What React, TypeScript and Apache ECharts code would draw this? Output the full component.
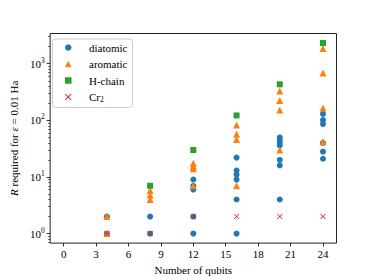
import React, { useEffect, useRef } from "react";
import * as echarts from "echarts";

const diatomicQubits = [4, 4, 8, 8, 12, 12, 12, 12, 12, 16, 16, 16, 16, 16, 16, 20, 20, 20, 20, 20, 20, 20, 24, 24, 24, 24, 24, 24];
const diatomicR = [1, 2, 1, 2, 1, 2, 6, 7, 9, 1, 4, 9, 11, 13, 22, 4, 16, 20, 36, 40, 44, 50, 21, 28, 40, 86, 101, 130];

const aromaticQubits = [4, 4, 8, 8, 8, 12, 12, 12, 12, 16, 16, 16, 16, 20, 20, 20, 20, 24, 24, 24, 24];
const aromaticR = [1, 2, 4, 4.8, 5.8, 7, 14, 15.5, 17.5, 7, 46, 57, 83, 30, 152, 225, 330, 42, 165, 685, 1850];

const hchainQubits = [8, 12, 16, 20, 24];
const hchainR = [7, 30, 122, 433, 2320];

const cr2Qubits = [4, 8, 12, 16, 20, 24];
const cr2R = [1, 1, 2, 2, 2, 2];

const xTickValues = [0, 3, 6, 9, 12, 15, 18, 21, 24];
const yTickValues = [1, 10, 100, 1000];
const yMinorTicks = [0.7, 0.8, 0.9, 2, 3, 4, 5, 6, 7, 8, 9, 20, 30, 40, 50, 60, 70, 80, 90, 200, 300, 400, 500, 600, 700, 800, 900, 2000, 3000];

const seriesNames = ["diatomic", "aromatic", "H-chain", "Cr2"];
const colors = ["#1f77b4", "#ff7f0e", "#2ca02c", "#d62728"];

const zip = (xs: number[], ys: number[]) => xs.map((x, i) => [x, ys[i]]);

const FONT = "Liberation Serif";
const CROSS = "path://M0,1L1,0L5,4L9,0L10,1L6,5L10,9L9,10L5,6L1,10L0,9L4,5Z";

export default function App() {
  const ref = useRef<HTMLDivElement>(null);
  useEffect(() => {
    if (!ref.current) return;
    const chart = echarts.init(ref.current, undefined, { renderer: "svg" });
    const yLabelRich = {
      b: { fontFamily: FONT, fontSize: 11, color: "#000", lineHeight: 12 },
      s: { fontFamily: FONT, fontSize: 7.5, color: "#000", padding: [0, 0, 7, 0] },
    };
    chart.setOption({
      animation: false,
      backgroundColor: "#fff",
      textStyle: { fontFamily: FONT },
      grid: {
        left: 46,
        right: 37.5,
        top: 33.5,
        bottom: 31.5,
        show: true,
        borderColor: "#222",
        borderWidth: 1,
        backgroundColor: "#fff",
      },
      legend: {
        orient: "vertical",
        left: 52.5,
        top: 39,
        padding: [2.5, 5, 4, 12.5],
        itemWidth: 6.5,
        itemHeight: 6.5,
        itemGap: 4.5,
        borderColor: "#cccccc",
        borderWidth: 1,
        borderRadius: 3,
        backgroundColor: "rgba(255,255,255,0.8)",
        data: seriesNames,
        formatter: (name: string) => (name === "Cr2" ? "Cr{sub|2}" : name),
        textStyle: {
          fontFamily: FONT,
          fontSize: 11,
          color: "#000",
          lineHeight: 12,
          padding: [0, 0, 0, 12.5],
          rich: {
            sub: { fontFamily: FONT, fontSize: 7.5, color: "#000", padding: [5, 0, 0, 0] },
          },
        },
      },
      xAxis: {
        type: "value",
        min: -1.25,
        max: 25.25,
        splitLine: { show: false },
        axisLine: { show: false, onZero: false },
        axisTick: {
          show: true,
          inside: false,
          length: 3.5,
          customValues: xTickValues,
          lineStyle: { color: "#000", width: 0.8 },
        },
        axisLabel: {
          customValues: xTickValues,
          fontFamily: FONT,
          fontSize: 11,
          color: "#000",
          margin: 5,
        },
        name: "Number of qubits",
        nameLocation: "middle",
        nameGap: 18,
        nameTextStyle: { fontFamily: FONT, fontSize: 11, color: "#000" },
      },
      yAxis: [
        {
          type: "log",
          logBase: 10,
          min: 0.68,
          max: 3420,
          position: "left",
          splitLine: { show: false },
          axisLine: { show: false, onZero: false },
          axisTick: {
            show: true,
            inside: false,
            length: 3.5,
            customValues: yTickValues,
            lineStyle: { color: "#000", width: 0.8 },
          },
          axisLabel: {
            customValues: yTickValues,
            margin: 5.5,
            formatter: (v: number) => `{b|10}{s|${Math.round(Math.log10(v))}}`,
            rich: yLabelRich,
          },
          name: "{i|R} required for {i|ε} = 0.01 Ha",
          nameLocation: "middle",
          nameGap: 26,
          nameTextStyle: {
            fontFamily: FONT,
            fontSize: 11,
            color: "#000",
            rich: {
              i: { fontFamily: FONT, fontSize: 11, fontStyle: "italic", color: "#000" },
            },
          },
        },
        {
          type: "log",
          logBase: 10,
          min: 0.68,
          max: 3420,
          position: "left",
          offset: 0,
          splitLine: { show: false },
          axisLine: { show: false, onZero: false },
          axisLabel: { show: false, customValues: yMinorTicks },
          axisTick: {
            show: true,
            inside: false,
            length: 2,
            customValues: yMinorTicks,
            lineStyle: { color: "#000", width: 0.6 },
          },
        },
      ],
      series: [
        {
          name: "diatomic",
          type: "scatter",
          symbol: "circle",
          symbolSize: 6,
          itemStyle: { color: colors[0], opacity: 1 },
          data: zip(diatomicQubits, diatomicR),
        },
        {
          name: "aromatic",
          type: "scatter",
          symbol: "triangle",
          symbolSize: 7,
          itemStyle: { color: colors[1], opacity: 1 },
          data: zip(aromaticQubits, aromaticR),
        },
        {
          name: "H-chain",
          type: "scatter",
          symbol: "rect",
          symbolSize: 6,
          itemStyle: { color: colors[2], opacity: 1 },
          data: zip(hchainQubits, hchainR),
        },
        {
          name: "Cr2",
          type: "scatter",
          symbol: CROSS,
          symbolSize: 5.5,
          itemStyle: { color: colors[3], opacity: 1 },
          data: zip(cr2Qubits, cr2R),
        },
      ],
    });
    return () => chart.dispose();
  }, []);
  return (
    <div
      ref={ref}
      style={{ position: "fixed", left: 0, top: 0, width: 374, height: 280 }}
    />
  );
}
